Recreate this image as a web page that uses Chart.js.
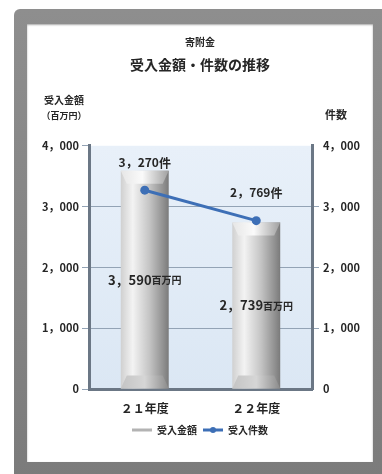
<!DOCTYPE html>
<html lang="ja">
<head>
<meta charset="utf-8">
<title>寄附金 受入金額・件数の推移</title>
<script src="https://cdn.jsdelivr.net/npm/chart.js@4.4.1/dist/chart.umd.min.js"></script>
<style>
  html, body { margin: 0; padding: 0; background: #fff; }
  body { width: 382px; height: 474px; overflow: hidden; position: relative; }
  .frame {
    position: absolute; left: 14px; top: 9px; width: 380px; height: 476px;
    background: linear-gradient(#8e8e8e, #7b7b7b);
    border-radius: 6px 0 0 0;
  }
  .panel {
    position: absolute; left: 27px; top: 24px; width: 346px; height: 438px;
    background: #fff;
    box-shadow: inset 0 1px 2px rgba(0, 0, 0, .35);
  }
  canvas { display: block; }
</style>
</head>
<body>
<div class="frame"></div>
<div class="panel">
  <canvas id="kifukinChart" width="346" height="438"></canvas>
</div>
<script>
// 年度別の受入実績
const categories = ['２１年度', '２２年度'];
const amounts = [3590, 2739];   // 受入金額（百万円）
const counts = [3270, 2769];    // 受入件数
const yTicks = [0, 1000, 2000, 3000, 4000];

const textColor = '#262626';
const lineBlue = '#3d6fb6';
const wallColor = '#6b7785';
const gridColor = '#93a3b5';
const barPct = 0.43;

Chart.defaults.font.family = "'Noto Sans CJK JP', 'Noto Sans', sans-serif";
Chart.defaults.font.weight = 'bold';
Chart.defaults.color = textColor;

// 3,590 -> 3，590
function fmt(v) {
    return v.toLocaleString('en-US').replace(/,/g, '，');
}

// グラフ領域の背景（薄い青）
const plotBackground = {
    id: 'plotBackground',
    beforeDraw(chart) {
        const { ctx, chartArea: a } = chart;
        const g = ctx.createLinearGradient(0, a.top, 0, a.bottom);
        g.addColorStop(0, '#e8f0f9');
        g.addColorStop(1, '#dbe7f4');
        ctx.save();
        ctx.fillStyle = g;
        ctx.fillRect(a.left, a.top, a.right - a.left, a.bottom - a.top);
        ctx.restore();
    }
};

// 円柱風の棒：上端と下端の面取り
const barBevel = {
    id: 'barBevel',
    afterDatasetDraw(chart, args) {
        if (args.index !== 0) return;
        const ctx = chart.ctx;
        args.meta.data.forEach(bar => {
            const l = bar.x - bar.width / 2;
            const r = bar.x + bar.width / 2;
            const d = 6, h = 13;
            ctx.save();
            // 上面
            let g = ctx.createLinearGradient(l, 0, r, 0);
            g.addColorStop(0, '#e6e6e6');
            g.addColorStop(0.45, '#fafafa');
            g.addColorStop(1, '#a0a0a0');
            ctx.fillStyle = g;
            ctx.beginPath();
            ctx.moveTo(l, bar.y);
            ctx.lineTo(r, bar.y);
            ctx.lineTo(r - d, bar.y + h);
            ctx.lineTo(l + d, bar.y + h);
            ctx.closePath();
            ctx.fill();
            // 下の台座
            g = ctx.createLinearGradient(l, 0, r, 0);
            g.addColorStop(0, '#c4c4c4');
            g.addColorStop(0.5, '#d6d6d6');
            g.addColorStop(1, '#8a8a8a');
            ctx.fillStyle = g;
            ctx.beginPath();
            ctx.moveTo(l + d, bar.base - h);
            ctx.lineTo(r - d, bar.base - h);
            ctx.lineTo(r, bar.base);
            ctx.lineTo(l, bar.base);
            ctx.closePath();
            ctx.fill();
            ctx.restore();
        });
    }
};

// 値ラベル（棒は中央、折れ線は点の上）
const valueLabels = {
    id: 'valueLabels',
    afterDatasetsDraw(chart) {
        const ctx = chart.ctx;
        const family = Chart.defaults.font.family;
        function drawPair(num, unit, x, y, numSize, unitSize) {
            ctx.font = 'bold ' + numSize + 'px ' + family;
            const w1 = ctx.measureText(num).width;
            ctx.font = 'bold ' + unitSize + 'px ' + family;
            const w2 = ctx.measureText(unit).width;
            let sx = x - (w1 + w2) / 2;
            ctx.textAlign = 'left';
            ctx.textBaseline = 'middle';
            ctx.font = 'bold ' + numSize + 'px ' + family;
            ctx.fillText(num, sx, y);
            ctx.font = 'bold ' + unitSize + 'px ' + family;
            ctx.fillText(unit, sx + w1, y + 1);
        }
        ctx.save();
        ctx.fillStyle = textColor;
        chart.getDatasetMeta(0).data.forEach((bar, i) => {
            drawPair(fmt(amounts[i]), '百万円', bar.x, (bar.y + bar.base) / 2, 13, 10);
        });
        chart.getDatasetMeta(1).data.forEach((pt, i) => {
            drawPair(fmt(counts[i]), '件', pt.x, pt.y - 28, 12, 12);
        });
        ctx.restore();
    }
};

// 軸タイトル（横書きで軸の上に置く）と凡例の点
const axisTitles = {
    id: 'axisTitles',
    afterDraw(chart) {
        const { ctx, chartArea: a } = chart;
        const family = Chart.defaults.font.family;
        ctx.save();
        ctx.fillStyle = textColor;
        ctx.textAlign = 'center';
        ctx.textBaseline = 'middle';
        ctx.font = 'bold 10px ' + family;
        ctx.fillText('受入金額', a.left - 25, a.top - 46);
        ctx.font = 'bold 9px ' + family;
        ctx.fillText('（百万円）', a.left - 25, a.top - 30);
        ctx.font = 'bold 11px ' + family;
        ctx.fillText('件数', a.right + 24, a.top - 31);

        // 折れ線の凡例に点を重ねる
        const box = chart.legend.legendHitBoxes[1];
        if (box) {
            ctx.fillStyle = lineBlue;
            ctx.beginPath();
            ctx.arc(box.left + 10, box.top + box.height / 2, 3, 0, Math.PI * 2);
            ctx.fill();
        }
        ctx.restore();
    }
};

const axisFont = { size: 11, weight: 'bold' };

// 棒の横方向グラデーション（x軸の位置から計算）
function barFill(c) {
    const chart = c.chart;
    const xs = chart.scales.x;
    if (!chart.chartArea || !xs || c.dataIndex === undefined) return '#c0c0c0';
    const w = (chart.chartArea.right - chart.chartArea.left) / categories.length * barPct;
    const cx = xs.getPixelForValue(c.dataIndex);
    const g = chart.ctx.createLinearGradient(cx - w / 2, 0, cx + w / 2, 0);
    g.addColorStop(0, '#d0d0d0');
    g.addColorStop(0.25, '#f3f3f3');
    g.addColorStop(0.6, '#c4c4c4');
    g.addColorStop(0.9, '#8e8e8e');
    g.addColorStop(1, '#7a7a7a');
    return g;
}

new Chart(document.getElementById('kifukinChart'), {
    data: {
        labels: categories,
        datasets: [{
            type: 'bar',
            label: '受入金額',
            data: amounts,
            yAxisID: 'y',
            order: 2,
            backgroundColor: barFill,
            borderWidth: 0,
            barPercentage: barPct,
            categoryPercentage: 1
        }, {
            type: 'line',
            label: '受入件数',
            data: counts,
            yAxisID: 'y1',
            order: 1,
            borderColor: lineBlue,
            backgroundColor: lineBlue,
            borderWidth: 3,
            pointRadius: 4.5,
            pointBackgroundColor: lineBlue,
            pointBorderWidth: 0
        }]
    },
    options: {
        responsive: false,
        animation: false,
        layout: { padding: { left: 0, right: 0, top: 0, bottom: 17 } },
        plugins: {
            title: {
                display: true,
                text: '寄附金',
                color: textColor,
                font: { size: 10, weight: 'bold' },
                padding: { top: 12, bottom: 8 }
            },
            subtitle: {
                display: true,
                text: '受入金額・件数の推移',
                color: textColor,
                font: { size: 14, weight: 'bold' },
                padding: { top: 0, bottom: 73 }
            },
            legend: {
                position: 'bottom',
                labels: {
                    boxWidth: 20,
                    boxHeight: 3,
                    padding: 6,
                    color: textColor,
                    font: { size: 10, weight: 'bold' },
                    sort: (a, b) => a.datasetIndex - b.datasetIndex,
                    generateLabels: () => [
                        { text: '受入金額', fillStyle: '#b3b3b3', strokeStyle: '#b3b3b3', lineWidth: 0, datasetIndex: 0, fontColor: textColor },
                        { text: '受入件数', fillStyle: lineBlue, strokeStyle: lineBlue, lineWidth: 0, datasetIndex: 1, fontColor: textColor }
                    ]
                }
            },
            tooltip: { enabled: false }
        },
        scales: {
            x: {
                grid: { display: false, drawTicks: false },
                border: { display: true, color: wallColor, width: 3 },
                ticks: { color: textColor, font: { size: 12, weight: 'bold' }, padding: 12 },
                afterFit(s) { s.height = 30; }
            },
            y: {
                position: 'left',
                min: yTicks[0],
                max: yTicks[yTicks.length - 1],
                afterBuildTicks(s) { s.ticks = yTicks.map(v => ({ value: v })); },
                ticks: { callback: fmt, color: textColor, font: axisFont, padding: 3 },
                grid: {
                    color: c => (c.tick && (c.tick.value === 0 || c.tick.value === 4000)) ? 'rgba(0,0,0,0)' : gridColor,
                    tickColor: gridColor,
                    tickLength: 7
                },
                border: { color: wallColor, width: 3 },
                afterFit(s) { s.width = 62; }
            },
            y1: {
                position: 'right',
                min: yTicks[0],
                max: yTicks[yTicks.length - 1],
                afterBuildTicks(s) { s.ticks = yTicks.map(v => ({ value: v })); },
                ticks: { callback: fmt, color: textColor, font: axisFont, padding: 4 },
                grid: {
                    drawOnChartArea: false,
                    color: c => (c.tick && (c.tick.value === 0 || c.tick.value === 4000)) ? 'rgba(0,0,0,0)' : gridColor,
                    tickLength: 7
                },
                border: { color: wallColor, width: 3 },
                afterFit(s) { s.width = 61; }
            }
        }
    },
    plugins: [plotBackground, barBevel, valueLabels, axisTitles]
});
</script>
</body>
</html>
